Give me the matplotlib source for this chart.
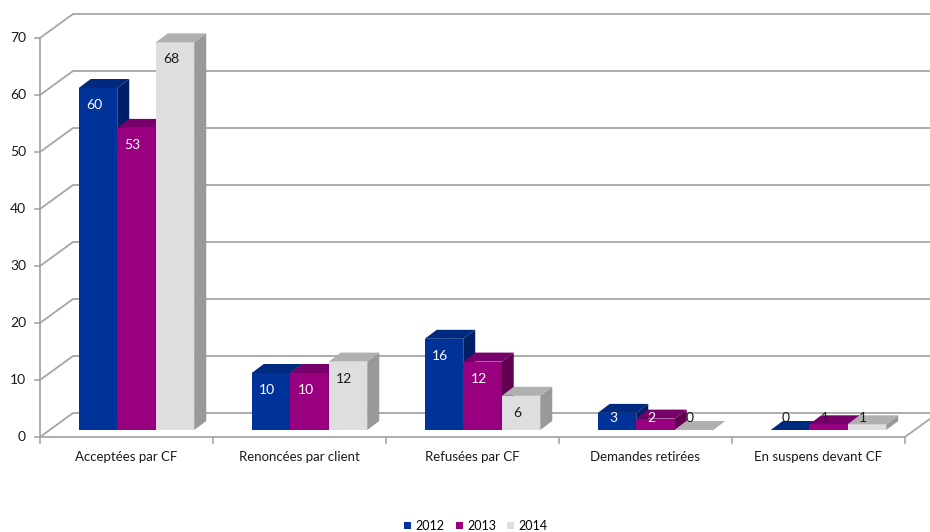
from __future__ import annotations

import matplotlib

matplotlib.use("Agg")
import matplotlib.pyplot as plt
from matplotlib.patches import Patch, Polygon, Rectangle

categories = [
    "Acceptées par CF",
    "Renoncées par client",
    "Refusées par CF",
    "Demandes retirées",
    "En suspens devant CF",
]
years = ["2012", "2013", "2014"]
values_2012 = [60, 10, 16, 3, 0]
values_2013 = [53, 10, 12, 2, 1]
values_2014 = [68, 12, 6, 0, 1]
y_ticks = [0, 10, 20, 30, 40, 50, 60, 70]

# front / top / side shades for each series
front_colors = ["#003399", "#990080", "#dedede"]
top_colors = ["#002a80", "#78006a", "#b0b0b0"]
side_colors = ["#001f66", "#620052", "#999999"]
text_colors = ["white", "white", "#1a1a1a"]

GRID = "#a6a6a6"
FONT = "Lato"

# pixel geometry of the picture (930x532 at 100 dpi)
W, H = 930, 532
X0, CAT_W = 40, 173     # front axis x, width of one category in px
Y0, UNIT = 437, 5.7     # front floor y, px per value unit


def px_x(p: float) -> float:
    return p / CAT_W


def px_y(p: float) -> float:
    return p / UNIT


def draw_walls(ax) -> None:
    wdx, wdy = px_x(33), px_y(24)
    xmax = (W - X0) / CAT_W
    n = len(categories)
    for v in y_ticks:
        ax.plot([0, wdx, xmax], [v, v + wdy, v + wdy], color=GRID, lw=1.3,
                solid_capstyle="butt", zorder=1)
        ax.plot([-px_x(5), 0], [v, v], color=GRID, lw=1.2, zorder=1)
        ax.text(-px_x(14), v, str(v), ha="right", va="center", fontsize=10,
                family=FONT, color="#1a1a1a")
    # front axis and floor edge
    ax.plot([0, 0], [0, y_ticks[-1]], color=GRID, lw=1.3, zorder=1)
    ax.plot([0, n, n + wdx], [0, 0, wdy], color=GRID, lw=1.3, zorder=1)
    for i in range(n + 1):
        ax.plot([i, i], [0, -px_y(6)], color=GRID, lw=1.2, zorder=1)
    for i, name in enumerate(categories):
        ax.text(i + 0.5, -px_y(20), name, ha="center", va="center",
                fontsize=9.5, family=FONT, color="#1a1a1a")


def draw_bars(ax) -> None:
    fdx, fdy = px_x(10), px_y(7)
    bdx, bdy = px_x(12), px_y(9)
    bw = px_x(38.5)
    gap = (1 - 3 * bw) / 2
    series = [values_2012, values_2013, values_2014]
    z = 3
    for i in range(len(categories)):
        for j, vals in enumerate(series):
            v = vals[i]
            xl = i + gap + j * bw + fdx
            top = fdy + v
            ax.add_patch(Rectangle((xl, fdy), bw, v, facecolor=front_colors[j],
                                   edgecolor="none", zorder=z))
            ax.add_patch(Polygon(
                [(xl, top), (xl + bw, top), (xl + bw + bdx, top + bdy), (xl + bdx, top + bdy)],
                closed=True, facecolor=top_colors[j], edgecolor="none", zorder=z))
            ax.add_patch(Polygon(
                [(xl + bw, fdy), (xl + bw, top), (xl + bw + bdx, top + bdy),
                 (xl + bw + bdx, fdy + bdy)],
                closed=True, facecolor=side_colors[j], edgecolor="none", zorder=z))
            z += 1
            label_y = max(top - px_y(17), fdy + px_y(12))
            color = text_colors[j] if v >= 2 else "#1a1a1a"
            ax.text(xl + bw / 2 - px_x(4), label_y, str(v), ha="center", va="center",
                    fontsize=10, family=FONT, color=color, zorder=50)


def main() -> None:
    fig = plt.figure(figsize=(W / 100, H / 100), dpi=100)
    ax = fig.add_axes([0, 0, 1, 1])
    ax.set_xlim(-X0 / CAT_W, (W - X0) / CAT_W)
    ax.set_ylim((Y0 - H) / UNIT, Y0 / UNIT)
    ax.axis("off")

    draw_walls(ax)
    draw_bars(ax)

    handles = [Patch(facecolor=c, edgecolor="none") for c in front_colors]
    fig.legend(handles, years, ncol=3, loc="center",
               bbox_to_anchor=(476 / W, 1 - 526 / H), frameon=False,
               handlelength=0.55, handleheight=0.55, handletextpad=0.35,
               columnspacing=0.9, prop={"family": FONT, "size": 9})

    fig.savefig("out.png", dpi=100)


if __name__ == "__main__":
    main()
